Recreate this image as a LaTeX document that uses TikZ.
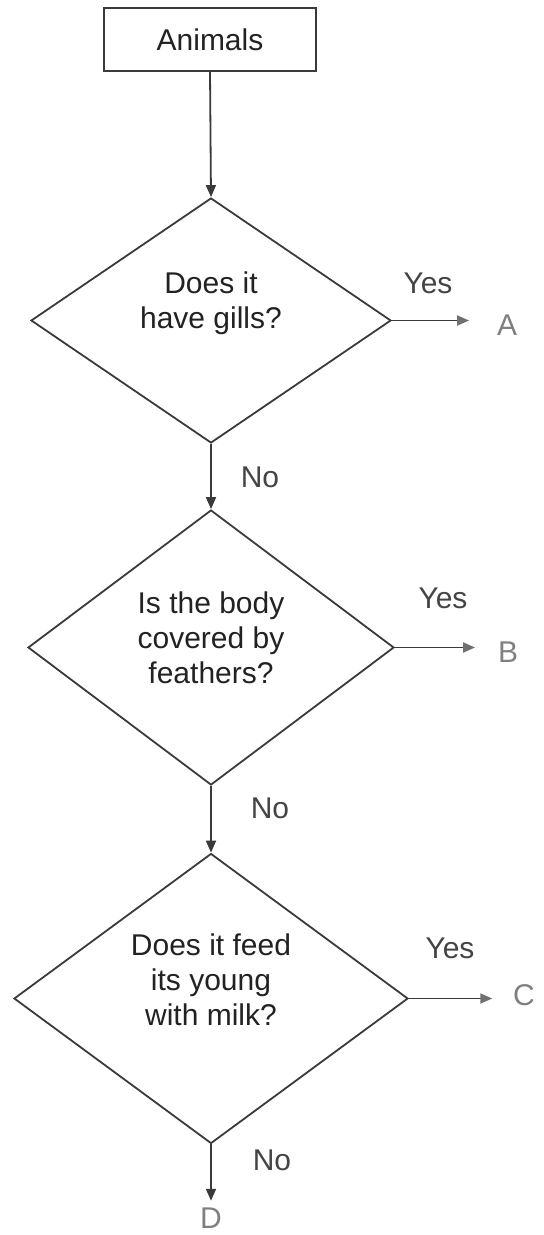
\documentclass[tikz,border=0pt]{standalone}
\usepackage{fontspec}
\setmainfont{Liberation Sans}
\usetikzlibrary{shapes.geometric,arrows.meta}
\definecolor{linec}{HTML}{3A3A3A}
\definecolor{txt}{HTML}{222222}
\definecolor{labc}{HTML}{444444}
\definecolor{resc}{HTML}{808080}
\definecolor{tipc}{HTML}{707070}
\begin{document}
\begin{tikzpicture}[x=0.5pt,y=-0.5pt,
  line width=0.9pt,
  box/.style={draw=linec, minimum width=106pt, minimum height=31.5pt, inner sep=0pt, font=\fontsize{15}{18}\selectfont, text=txt},
  dia/.style={draw=linec, diamond, inner sep=0pt},
  qtext/.style={align=center, font=\fontsize{15}{17.5}\selectfont, text=txt},
  lab/.style={font=\fontsize{15}{18}\selectfont, text=labc},
  res/.style={font=\fontsize{15}{18}\selectfont, text=resc, inner sep=1pt},
  arr/.style={draw=linec, -{Triangle[length=6pt,width=5pt,color=linec]}},
  harr/.style={draw=linec, -{Triangle[length=6pt,width=5pt,color=tipc]}},
]
\useasboundingbox (0,0) rectangle (544,1235);

\node[box] (an) at (210,39.5) {Animals};

\node[dia, minimum width=180pt, minimum height=122.5pt] (d1) at (211,320.5) {};
\node[qtext] (q1) at (211,303) {Does it\\have gills?};

\node[dia, minimum width=183pt, minimum height=137.5pt] (d2) at (211,647.5) {};
\node[qtext] (q2) at (211,638) {Is the body\\covered by\\feathers?};

\node[dia, minimum width=197pt, minimum height=145pt] (d3) at (211,998.5) {};
\node[qtext] (q3) at (211,980) {Does it feed\\its young\\with milk?};

\node[lab] (y1) at (428,283) {Yes};
\node[lab] (n1) at (260,477) {No};
\node[lab] (y2) at (443,598) {Yes};
\node[lab] (n2) at (270,808) {No};
\node[lab] (y3) at (450,948) {Yes};
\node[lab] (n3) at (272,1160) {No};

\node[res] (A) at (507,325) {A};
\node[res] (B) at (508,652) {B};
\node[res] (C) at (524,995) {C};
\node[res] (D) at (211,1218) {D};

\draw[arr] (an.south) -- (d1.north);
\draw[arr] (d1.south) -- (d2.north);
\draw[arr] (d2.south) -- (d3.north);
\draw[arr, shorten >=2pt] (d3.south) -- (D.north);

\draw[harr, shorten >=12.5pt] (d1.east) -- (A.west |- d1.east);
\draw[harr, shorten >=10pt] (d2.east) -- (B.west |- d2.east);
\draw[harr, shorten >=9pt] (d3.east) -- (C.west |- d3.east);
\end{tikzpicture}
\end{document}
